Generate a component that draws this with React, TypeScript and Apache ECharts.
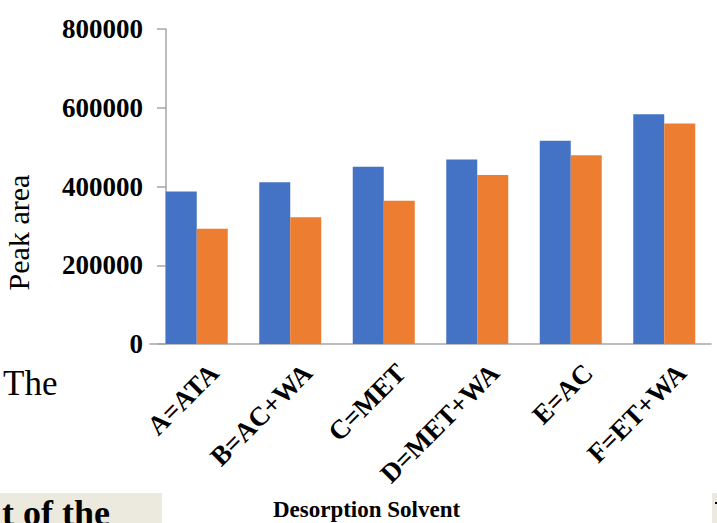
import React, { useEffect, useRef } from "react";
import * as echarts from "echarts";

// Desorption solvents and the peak areas measured for each (two runs)
const categories = ["A=ATA", "B=AC+WA", "C=MET", "D=MET+WA", "E=AC", "F=ET+WA"];
const seriesBlue = [387000, 411000, 450000, 468500, 516000, 583500];
const seriesOrange = [292500, 322000, 363500, 429500, 479500, 560000];
const yTicks = { min: 0, max: 800000, interval: 200000 };

const SERIF = "'Liberation Serif', 'Times New Roman', serif";

export default function App() {
  const ref = useRef<HTMLDivElement>(null);

  useEffect(() => {
    if (!ref.current) return;
    const chart = echarts.init(ref.current, null, { renderer: "svg" });
    chart.setOption({
      animation: false,
      backgroundColor: "#ffffff",
      grid: {
        left: 150,
        right: 6,
        top: 29,
        bottom: 179,
        containLabel: false,
        outerBoundsMode: "none",
      },
      xAxis: {
        type: "category",
        data: categories,
        axisLine: { show: true, lineStyle: { color: "#a6a6a6", width: 1.5 } },
        axisTick: { show: false },
        axisLabel: {
          rotate: 45,
          margin: 7,
          verticalAlign: "top",
          padding: [11, 0, 0, 0],
          fontFamily: SERIF,
          fontWeight: "bold",
          fontSize: 27,
          color: "#000000",
        },
        name: "Desorption Solvent",
        nameLocation: "middle",
        nameGap: 154,
        nameTextStyle: {
          fontFamily: SERIF,
          fontWeight: "bold",
          fontSize: 23,
          color: "#000000",
          padding: [0, 128, 0, 0],
        },
      },
      yAxis: {
        type: "value",
        min: yTicks.min,
        max: yTicks.max,
        interval: yTicks.interval,
        offset: -16,
        axisLine: { show: true, lineStyle: { color: "#a6a6a6", width: 1.5 } },
        axisTick: { show: true, inside: false, length: 9, lineStyle: { color: "#a6a6a6", width: 1.5 } },
        splitLine: { show: false },
        axisLabel: {
          margin: 23,
          formatter: (v: number) => String(v),
          fontFamily: SERIF,
          fontWeight: "bold",
          fontSize: 27,
          color: "#000000",
        },
        name: "Peak area",
        nameLocation: "middle",
        nameGap: 133,
        nameTextStyle: {
          fontFamily: SERIF,
          fontSize: 30,
          color: "#000000",
          padding: [0, 92, 0, 0],
        },
      },
      series: [
        {
          type: "bar",
          data: seriesBlue,
          barWidth: 31,
          barGap: "0%",
          itemStyle: { color: "#4472C4" },
        },
        {
          type: "bar",
          data: seriesOrange,
          barWidth: 31,
          barGap: "0%",
          itemStyle: { color: "#ED7D31" },
        },
      ],
      graphic: [
        {
          type: "text",
          left: 3,
          top: 366,
          style: { text: "The", fontFamily: SERIF, fontSize: 35, fill: "#000000" },
        },
        {
          type: "rect",
          left: 0,
          top: 493,
          shape: { width: 162, height: 30 },
          style: { fill: "#ECE9DF" },
        },
        {
          type: "text",
          left: 2,
          top: 495,
          style: { text: "t of the", fontFamily: SERIF, fontWeight: "bold", fontSize: 36, fill: "#000000" },
        },
        {
          type: "rect",
          left: 712,
          top: 493,
          shape: { width: 5, height: 30 },
          style: { fill: "#ECE9DF" },
        },
        {
          type: "rect",
          left: 715,
          top: 502,
          shape: { width: 2, height: 2 },
          style: { fill: "#000000" },
        },
      ],
    });
    return () => chart.dispose();
  }, []);

  return (
    <div
      ref={ref}
      style={{ position: "fixed", left: 0, top: 0, width: 717, height: 523, background: "#fff" }}
    />
  );
}
